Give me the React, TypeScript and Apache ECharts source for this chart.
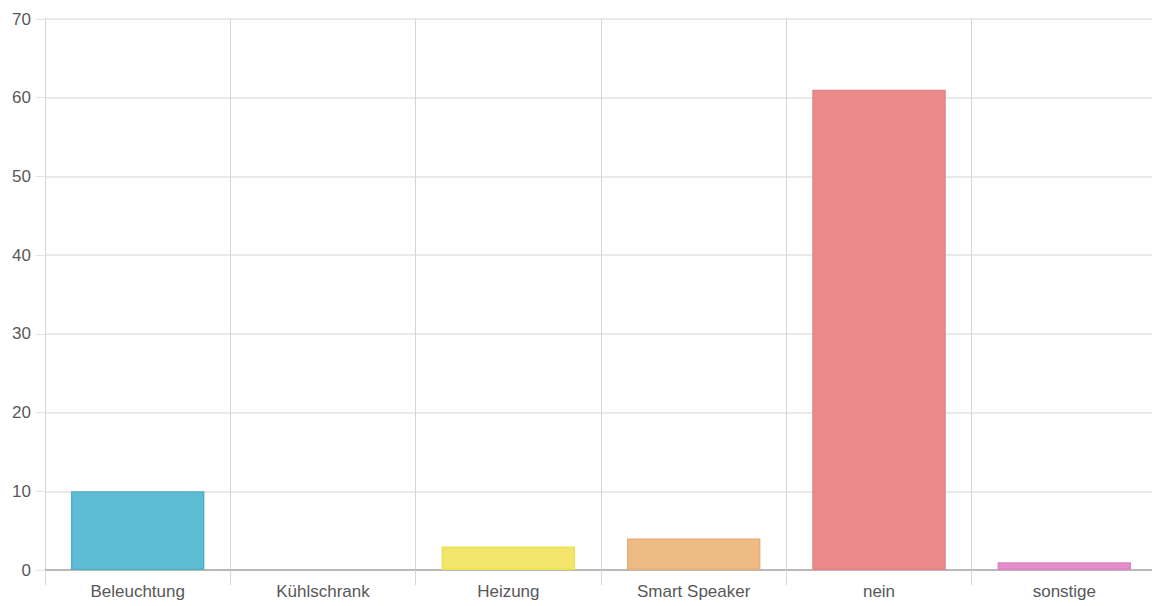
import React, { useEffect, useRef } from "react";
import * as echarts from "echarts";

const categories = ["Beleuchtung", "Kühlschrank", "Heizung", "Smart Speaker", "nein", "sonstige"];
const values = [10, 0, 3, 4, 61, 1];
const fillColors = ["#5dbdd4", "#c0c0c0", "#f3e46c", "#efbb84", "#ea8a8a", "#e58dcb"];
const borderColors = ["#4fb0c8", "#b0b0b0", "#e9e34c", "#e6ae78", "#e58282", "#dd82c2"];

export default function App() {
  const ref = useRef<HTMLDivElement>(null);
  useEffect(() => {
    const chart = echarts.init(ref.current!, undefined, { renderer: "svg" });
    chart.setOption({
      animation: false,
      grid: { left: 45, right: 0, top: 19, bottom: 36, containLabel: false },
      xAxis: {
        type: "category",
        data: categories,
        axisLine: { show: true, lineStyle: { color: "#a8a8a8", width: 1.5 } },
        axisTick: { show: true, length: 15, alignWithLabel: false, lineStyle: { color: "#d6d6d6" } },
        splitLine: { show: true, lineStyle: { color: "#d6d6d6", width: 1 } },
        axisLabel: { color: "#585858", fontSize: 17, fontFamily: "Liberation Sans, Arial, sans-serif", margin: 13 },
      },
      yAxis: {
        type: "value",
        min: 0,
        max: 70,
        interval: 10,
        axisLine: { show: true, lineStyle: { color: "#d6d6d6" } },
        axisTick: { show: true, length: 9, lineStyle: { color: "#e3e3e3" } },
        splitLine: { show: true, lineStyle: { color: "#e3e3e3", width: 1.5 } },
        axisLabel: { color: "#585858", fontSize: 17, fontFamily: "Liberation Sans, Arial, sans-serif", margin: 14 },
      },
      series: [
        {
          type: "bar",
          barWidth: "72%",
          data: values.map((v, i) => ({
            value: v,
            itemStyle: {
              color: fillColors[i],
              borderColor: borderColors[i],
              borderWidth: v === 0 ? 0 : 1.5,
              opacity: v === 0 ? 0 : 1,
            },
          })),
        },
      ],
    });
    return () => chart.dispose();
  }, []);
  return (
    <div style={{ position: "absolute", left: 0, top: 0, width: 1152, height: 606, overflow: "hidden", background: "#fff" }}>
      <div ref={ref} style={{ position: "absolute", left: 0, top: 0, width: 1157, height: 606 }} />
    </div>
  );
}
